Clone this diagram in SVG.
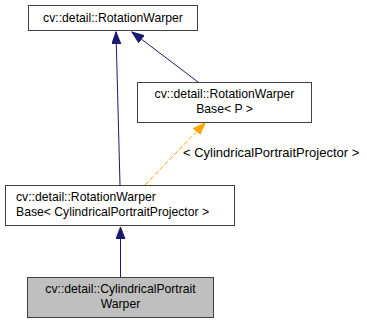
<svg xmlns="http://www.w3.org/2000/svg" width="367" height="323" viewBox="0 0 367 323">
<style>
.box{fill:#ffffff;stroke:#404040;stroke-width:1}
.cur{fill:#bfbfbf;stroke:#404040;stroke-width:1}
text{font-family:"Liberation Sans",Arial,sans-serif;font-size:12.2px;fill:#000000}
.c{text-anchor:middle}
.lbl{font-size:13px}
.e{fill:none;stroke:#191970;stroke-width:1}
.t{fill:none;stroke:#ffa500;stroke-width:1;stroke-dasharray:5,2}
</style>
<defs>
<marker id="ab" markerUnits="userSpaceOnUse" markerWidth="13" markerHeight="10" refX="12" refY="4.5" orient="auto">
<path d="M0,0 L12,4.5 L0,9 z" fill="#191970" stroke="#191970"/>
</marker>
<marker id="ao" markerUnits="userSpaceOnUse" markerWidth="13" markerHeight="10" refX="12" refY="4.5" orient="auto">
<path d="M0,0 L12,4.5 L0,9 z" fill="#ffa500" stroke="#ffa500"/>
</marker>
</defs>
<g id="edges">
<path class="e" d="M120,185 L116,32" marker-end="url(#ab)"/>
<path class="e" d="M198,82 L132,32" marker-end="url(#ab)"/>
<path class="t" d="M145,185 L205,123" marker-end="url(#ao)"/>
<path class="e" d="M120.5,277 L120.5,227" marker-end="url(#ab)"/>
<text class="lbl" x="183" y="157">&lt; CylindricalPortraitProjector &gt;</text>
</g>
<g id="node_rotationwarper">
<rect class="box" x="28.5" y="5.5" width="169" height="25"/>
<text class="c" x="113" y="21.5">cv::detail::RotationWarper</text>
</g>
<g id="node_rotationwarperbase_p">
<rect class="box" x="137.5" y="82.5" width="174" height="40"/>
<text class="c" x="224.5" y="98">cv::detail::RotationWarper</text>
<text class="c" x="224.5" y="113">Base&lt; P &gt;</text>
</g>
<g id="node_rotationwarperbase_cyl">
<rect class="box" x="5.5" y="185.5" width="229" height="40"/>
<text x="16" y="201">cv::detail::RotationWarper</text>
<text x="16" y="216">Base&lt; CylindricalPortraitProjector &gt;</text>
</g>
<g id="node_cylindricalportraitwarper">
<rect class="cur" x="27.5" y="277.5" width="186" height="40"/>
<text class="c" x="120.5" y="293">cv::detail::CylindricalPortrait</text>
<text class="c" x="120.5" y="308">Warper</text>
</g>
</svg>
